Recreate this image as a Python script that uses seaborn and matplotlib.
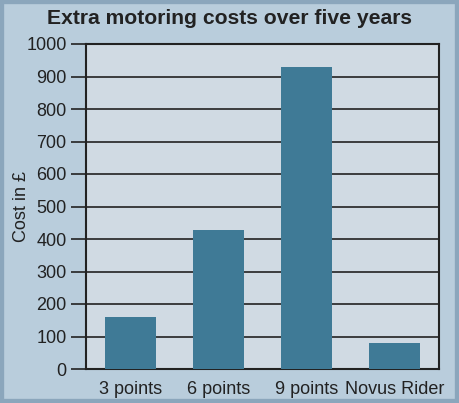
import matplotlib
matplotlib.use("Agg")
import matplotlib.pyplot as plt
import seaborn as sns
import pandas as pd
from matplotlib.patches import Rectangle

# Chart data
categories = ["3 points", "6 points", "9 points", "Novus Rider"]
costs = [160, 428, 928, 80]
y_ticks = list(range(0, 1001, 100))

df = pd.DataFrame({"category": categories, "cost": costs})

sns.set_theme(style="white")
plt.rcParams["font.family"] = ["Liberation Sans", "DejaVu Sans"]

fig = plt.figure(figsize=(4.59, 4.03), dpi=100, facecolor="#b9cddc")
ax = fig.add_axes([86 / 459, 1 - 369 / 403, 353 / 459, 325 / 403])
ax.set_facecolor("#d0dae3")

# outer frame
fig.patches.append(Rectangle((0, 0), 1, 1, transform=fig.transFigure,
                             fill=False, edgecolor="#8ba6bc", linewidth=6))

sns.barplot(data=df, x="category", y="cost", color="#3f7a96", width=0.58,
            saturation=1, linewidth=0, edgecolor="none", ax=ax, zorder=3)

ax.set_xlim(-0.5, 3.5)
ax.set_ylim(0, 1000)
ax.set_yticks(y_ticks)
for y in y_ticks:
    ax.axhline(y, color="#222222", linewidth=1.2, zorder=1)

for side in ["left", "right", "top", "bottom"]:
    ax.spines[side].set_visible(True)
    ax.spines[side].set_color("#222222")
    ax.spines[side].set_linewidth(1.5)

ax.tick_params(axis="y", left=True, length=11, width=1.2, color="#222222",
               labelsize=13, labelcolor="#222222", pad=3)
ax.tick_params(axis="x", bottom=False, labelsize=13, labelcolor="#222222", pad=3)

ax.set_xlabel("")
ax.set_ylabel("Cost in £", fontsize=13, color="#222222")
ax.yaxis.label.set_verticalalignment("center")
ax.yaxis.set_label_coords((22 - 86) / 353, 0.5)

fig.text(0.5, 1 - 18 / 403, "Extra motoring costs over five years",
         ha="center", va="center", fontsize=15.2, fontweight="bold", color="#222222")

fig.savefig("out.png", dpi=100, facecolor=fig.get_facecolor())
